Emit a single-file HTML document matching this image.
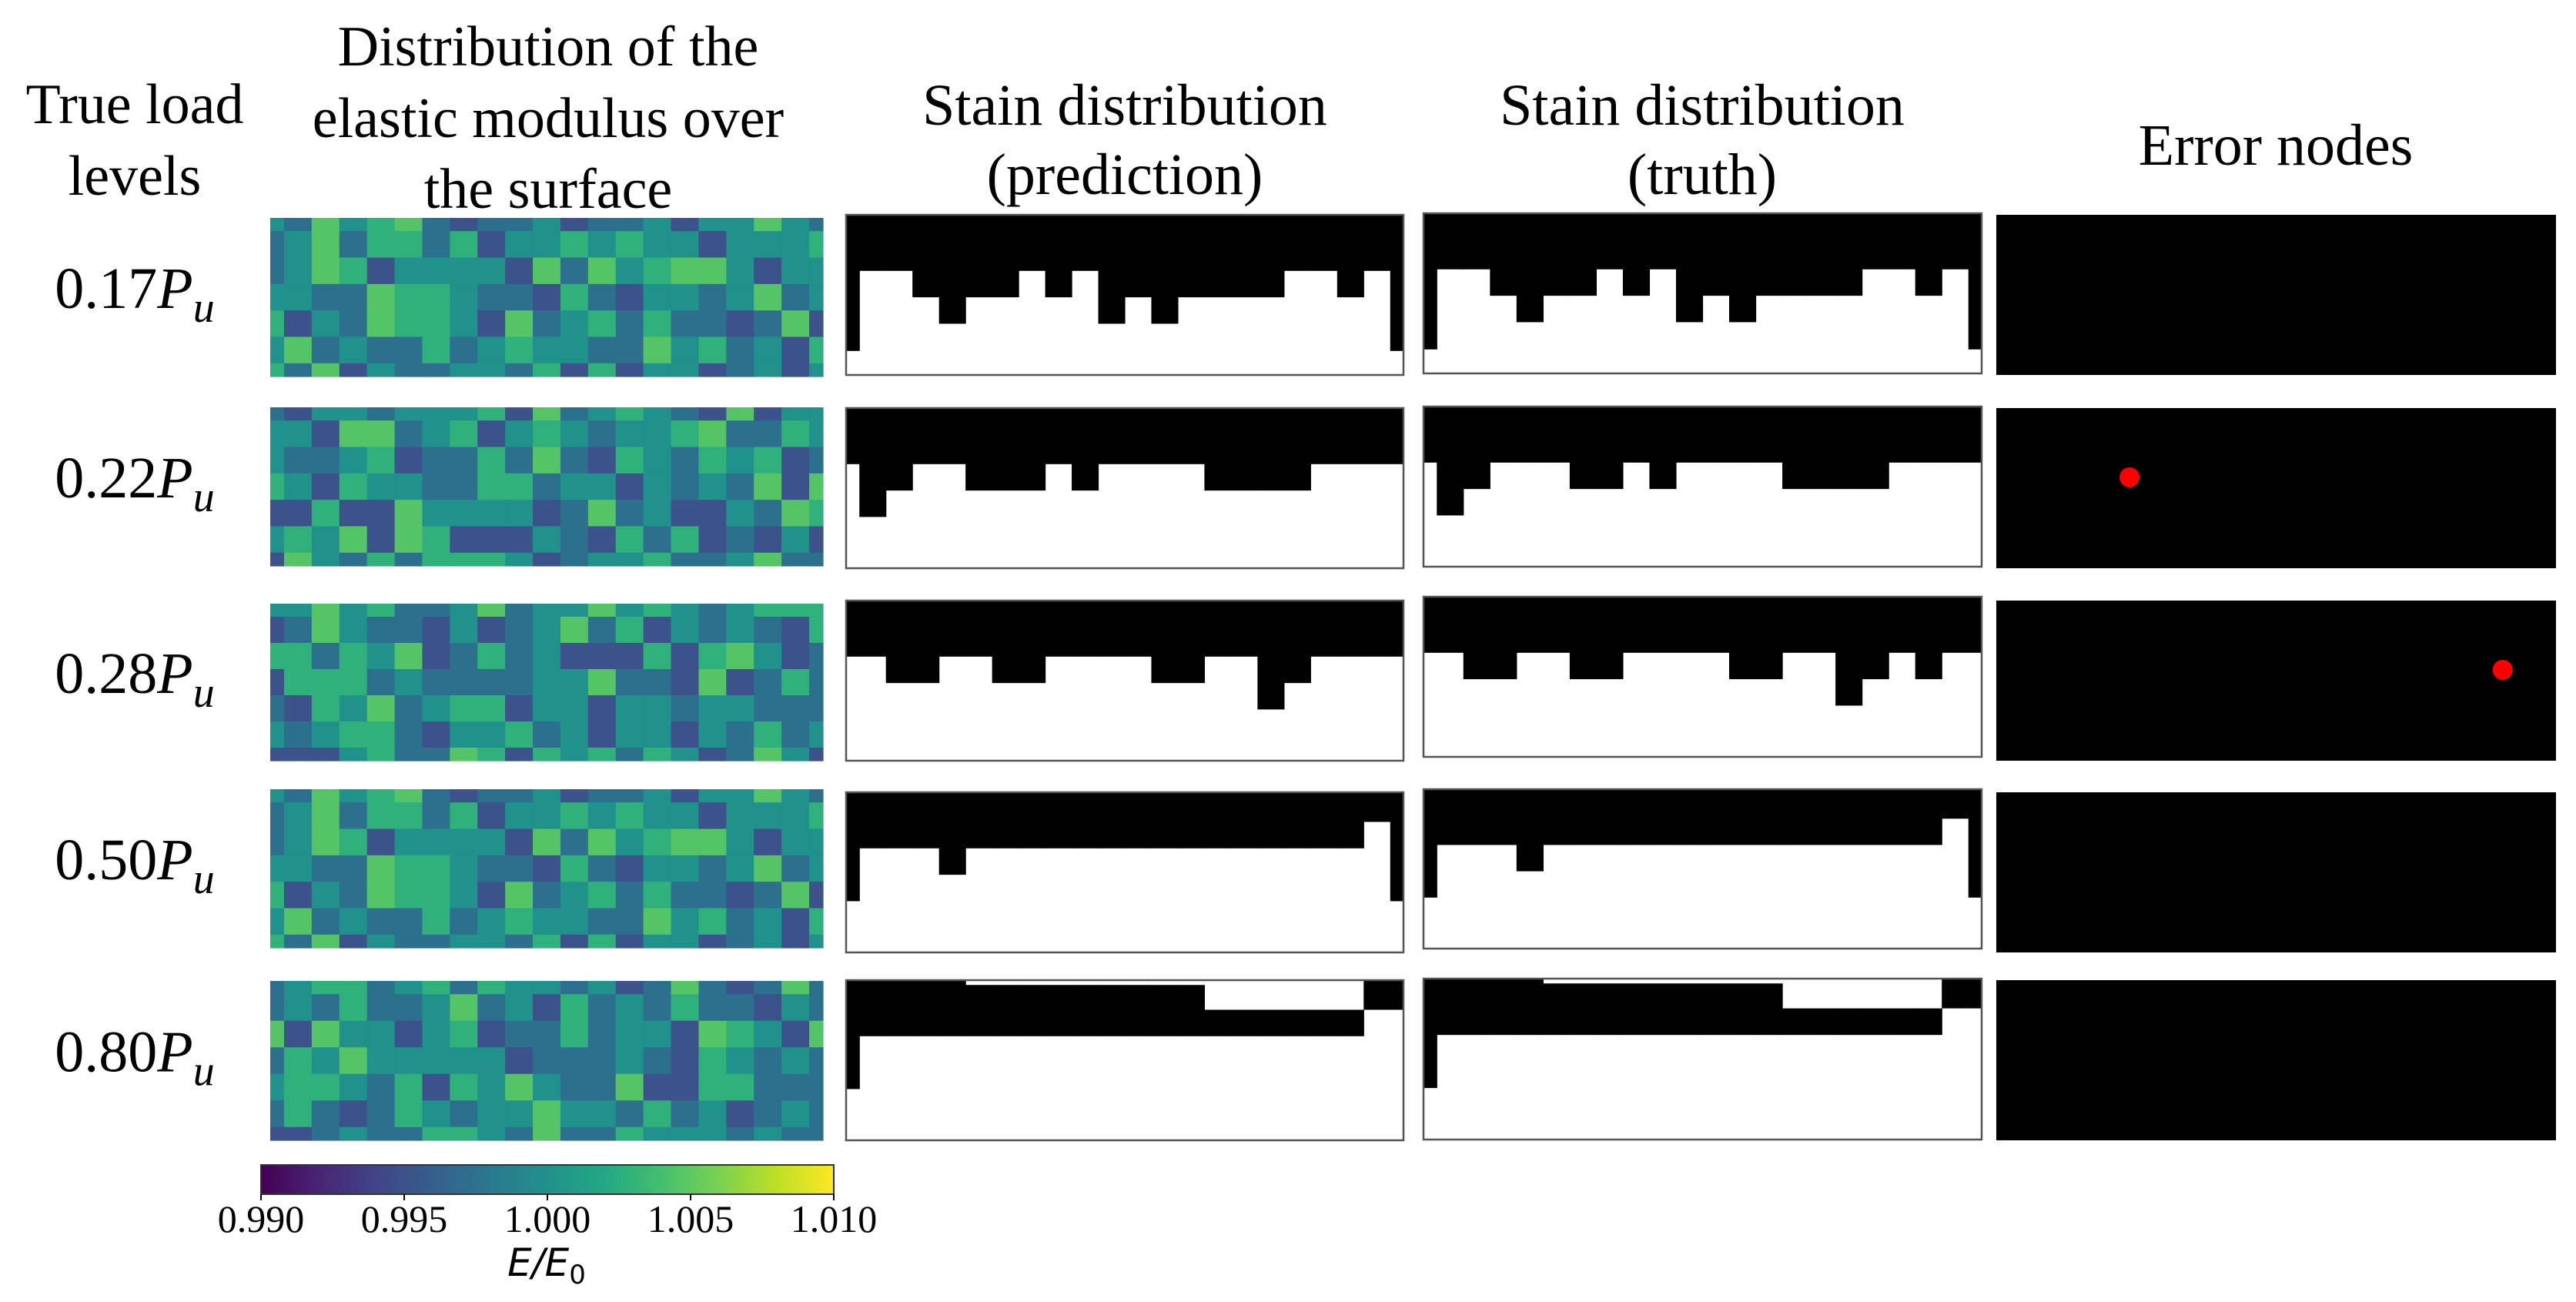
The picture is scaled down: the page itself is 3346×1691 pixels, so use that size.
<!DOCTYPE html>
<html><head><meta charset="utf-8">
<style>
html,body{margin:0;padding:0;background:#fff;}
svg{display:block;}
text{font-family:"Liberation Serif",serif;fill:#000;}
</style></head>
<body>
<svg id="fig" width="3346" height="1691" viewBox="0 0 3346 1691" xmlns="http://www.w3.org/2000/svg">
<rect width="3346" height="1691" fill="#fff"/>
<g font-size="74" text-anchor="middle">
<text x="175" y="160">True load</text>
<text x="175" y="253">levels</text>
<text x="712" y="85">Distribution of the</text>
<text x="712" y="178">elastic modulus over</text>
<text x="712" y="270">the surface</text>
<text x="1461" y="162" font-size="76">Stain distribution</text>
<text x="1461" y="252" font-size="76">(prediction)</text>
<text x="2211" y="162" font-size="76">Stain distribution</text>
<text x="2211" y="252" font-size="76">(truth)</text>
<text x="2956" y="214" font-size="76">Error nodes</text>
</g>
<g id="labels" font-size="76" text-anchor="middle"></g>
<g id="heat"></g>
<g id="strain"></g>
<g id="cbar"></g>
</svg>
<script>
// ---- data ----
const loadLabels = ["0.17", "0.22", "0.28", "0.50", "0.80"];
const levelValues = [0, 0.9950, 0.9974, 1.0000, 1.0028, 1.0046];
const heat1 = [
[3,2,5,3,4,5,2,1,2,2,3,1,2,2,3,1,3,3,5,3,2],
[2,3,5,2,4,4,2,4,1,3,3,4,3,4,3,3,1,3,3,3,4],
[2,3,5,4,1,3,3,3,3,1,5,2,5,3,4,5,5,3,1,3,3],
[3,3,2,2,5,4,4,3,2,2,1,4,2,1,3,3,2,3,5,2,3],
[4,1,3,2,5,4,4,3,1,5,2,3,4,2,4,2,2,1,2,5,1],
[3,5,2,3,2,2,4,2,3,4,3,3,2,2,5,3,4,2,3,1,4],
[4,2,5,1,3,2,2,3,3,2,4,1,4,1,3,3,1,2,3,1,3]];
const heat2 = [
[2,1,3,3,2,3,3,3,4,1,5,2,3,4,3,2,1,5,1,3,3],
[3,3,1,5,5,2,3,4,1,3,4,3,2,3,3,4,5,2,2,4,3],
[3,2,2,3,4,1,2,2,4,2,5,2,1,4,3,2,4,3,4,1,2],
[4,3,1,4,3,3,2,2,4,4,2,3,3,1,3,2,3,2,5,1,5],
[1,1,4,1,1,5,3,3,3,3,1,2,5,2,3,1,1,3,2,5,4],
[3,4,3,5,1,5,4,1,1,1,3,2,1,4,2,4,1,2,1,3,1],
[1,5,3,2,4,2,4,4,4,3,1,2,3,3,4,2,2,3,5,2,2]];
const heat3 = [
[3,3,5,3,4,2,2,3,5,2,3,3,5,3,4,3,2,3,4,4,4],
[1,2,5,3,2,2,1,3,1,2,3,5,2,4,1,3,2,3,2,1,4],
[4,4,2,4,3,5,1,2,4,2,3,1,1,1,4,1,4,5,3,1,2],
[1,4,4,4,2,3,2,2,2,2,3,3,5,2,2,1,5,1,2,4,2],
[2,1,4,3,5,2,3,4,4,1,3,3,1,3,3,2,3,3,2,2,2],
[3,2,3,4,4,2,1,3,3,4,2,3,1,3,3,1,3,2,4,2,3],
[1,1,1,3,4,2,2,5,4,1,4,3,4,2,4,3,1,2,5,3,1]];
const heat4 = heat1;
const heat5 = [
[2,3,4,4,2,3,4,2,4,3,3,2,3,1,2,5,2,1,2,5,2],
[2,3,2,4,2,2,3,5,2,3,1,4,2,3,2,4,2,2,1,3,2],
[5,1,5,3,3,1,3,4,1,2,2,4,2,3,3,1,5,4,3,1,5],
[2,4,3,5,3,3,3,3,3,1,2,2,2,3,2,1,4,3,2,3,2],
[3,4,4,3,2,4,1,4,3,5,3,2,2,5,1,1,4,4,2,2,2],
[2,4,2,1,2,4,3,2,3,3,5,3,3,2,4,2,3,1,2,3,2],
[1,1,2,3,2,2,4,4,3,2,5,2,2,4,3,3,3,2,3,2,2]];
const heats = [heat1, heat2, heat3, heat4, heat5];
const depthFractions = [0, 0.03, 0.185, 0.35, 0.515, 0.68, 0.85];
const predBottom = [
[6,3,3,4,5,4,4,3,4,3,5,4,5,4,4,4,4,3,3,4,3,6],
[3,5,4,3,3,4,4,4,3,4,3,3,3,3,4,4,4,4,3,3,3,3],
[3,3,4,4,3,3,4,4,3,3,3,3,4,4,3,3,5,4,3,3,3,3],
[5,3,3,3,4,3,3,3,3,3,3,3,3,3,3,3,3,3,3,3,2,5],
[5,3,3,3,3,3,3,3,3,3,3,3,3,3,3,3,3,3,3,3,2,2]];
const truthBottom = [
[6,3,3,4,5,4,4,3,4,3,5,4,5,4,4,4,4,3,3,4,3,6],
[3,5,4,3,3,3,4,4,3,4,3,3,3,3,4,4,4,4,3,3,3,3],
[3,3,4,4,3,3,4,4,3,3,3,3,4,4,3,3,5,4,3,4,3,3],
[5,3,3,3,4,3,3,3,3,3,3,3,3,3,3,3,3,3,3,3,2,5],
[5,3,3,3,3,3,3,3,3,3,3,3,3,3,3,3,3,3,3,3,2,2]];
const predTop = [
[0,0,0,0,0,0,0,0,0,0,0,0,0,0,0,0,0,0,0,0,0,0],
[0,0,0,0,0,0,0,0,0,0,0,0,0,0,0,0,0,0,0,0,0,0],
[0,0,0,0,0,0,0,0,0,0,0,0,0,0,0,0,0,0,0,0,0,0],
[0,0,0,0,0,0,0,0,0,0,0,0,0,0,0,0,0,0,0,0,0,0],
[0,0,0,0,0,1,1,1,1,1,1,1,1,1,2,2,2,2,2,2,0,0]];
const truthTop = predTop;
const cbarTicks = [0.990, 0.995, 1.000, 1.005, 1.010];
const cbarMin = 0.990, cbarMax = 1.010;

// ---- layout ----
const NS = "http://www.w3.org/2000/svg";
const heatX = [351, 1069];
const heatY = [[283,489],[529,735],[784,988],[1025,1231],[1274,1481]];
const predX = [1099, 1823];
const truthX = [1849, 2574];
const errX = [2593, 3320];
const predY = [[279,487],[530,738],[780,988],[1029,1237],[1273,1481]];
const truthY = [[277,485],[528,736],[775,983],[1025,1232],[1271,1480]];

const vstops = ["#440154","#482475","#414487","#355f8d","#2a788e","#21918c","#22a884","#44bf70","#7ad151","#bddf26","#fde725"];
function hex2rgb(h){return [1,3,5].map(i=>parseInt(h.substr(i,2),16));}
function viridis(t){
  t=Math.max(0,Math.min(1,t)); const p=t*10, i=Math.min(9,Math.floor(p)), f=p-i;
  const a=hex2rgb(vstops[i]), b=hex2rgb(vstops[i+1]);
  return "rgb("+a.map((v,k)=>Math.round(v+(b[k]-v)*f)).join(",")+")";
}
function colorOf(v){return viridis((v-cbarMin)/(cbarMax-cbarMin));}
function mk(tag, attrs, parent){const e=document.createElementNS(NS,tag);for(const k in attrs)e.setAttribute(k,attrs[k]);parent.appendChild(e);return e;}
function halfGrid(n, a, b){const u=(b-a)/(n-1);return i=>[a+Math.max(0,i-0.5)*u, a+Math.min(n-1,i+0.5)*u];}
function centerGrid(n, a, b){const u=(b-a)/(n-1);return i=>a+i*u;}

const labels = document.getElementById("labels");
const heatG = document.getElementById("heat");
const strainG = document.getElementById("strain");

loadLabels.forEach((lab, r) => {
  const cy = (heatY[r][0]+heatY[r][1])/2 + 14;
  const t = mk("text", {x: 175, y: cy}, labels);
  
  
  t.appendChild(document.createTextNode(lab));
  const p = mk("tspan", {"font-style":"italic"}, t); p.textContent = "P";
  const s = mk("tspan", {"font-style":"italic", "font-size":"56", dy: 18}, t); s.textContent = "u";
});

heats.forEach((grid, r) => {
  const g = mk("g", {}, heatG);
  
  
  const nr = grid.length, nc = grid[0].length;
  const xs = halfGrid(nc, heatX[0], heatX[1]);
  const ys = halfGrid(nr, heatY[r][0], heatY[r][1]);
  grid.forEach((row, i) => row.forEach((lv, j) => {
    const [x0,x1] = xs(j), [y0,y1] = ys(i);
    const c = mk("rect", {x:x0, y:y0, width:x1-x0+0.6, height:y1-y0+0.6, fill: colorOf(levelValues[lv])}, g);
    
    
  }));
});

function drawStrain(xr, yr, tops, bots, name){
  const g = mk("g", {}, strainG);
  
  
  const H = yr[1]-yr[0];
  mk("rect", {x:xr[0], y:yr[0], width:xr[1]-xr[0], height:H, fill:"#fff"}, g);
  const xs = halfGrid(bots.length, xr[0], xr[1]);
  bots.forEach((b, i) => {
    const [x0,x1] = xs(i);
    const y0 = yr[0] + depthFractions[tops[i]]*H, y1 = yr[0] + depthFractions[b]*H;
    const c = mk("rect", {x:x0, y:y0, width:x1-x0+0.6, height:y1-y0, fill:"#000"}, g);
    
    
  });
  const fr = mk("rect", {x:xr[0], y:yr[0], width:xr[1]-xr[0], height:H, fill:"none", stroke:"#555", "stroke-width":2.5}, g);
  
  
}

predBottom.forEach((b, r) => {
  drawStrain(predX, predY[r], predTop[r], b, "strain-prediction-panel");
  drawStrain(truthX, truthY[r], truthTop[r], truthBottom[r], "strain-truth-panel");
  const yr = predY[r];
  const ep = mk("rect", {x:errX[0], y:yr[0], width:errX[1]-errX[0], height:yr[1]-yr[0], fill:"#000"}, strainG);
  
  
  const cx = centerGrid(b.length, errX[0], errX[1]);
  b.forEach((v, i) => {
    const tv = truthBottom[r][i];
    if (v !== tv) {
      const l = Math.min(v, tv);
      const fy = (depthFractions[l] + depthFractions[l+1]) / 2;
      const d = mk("circle", {cx: cx(i), cy: yr[0] + fy*(yr[1]-yr[0]), r: 13, fill: "#ff0000"}, strainG);
      
      
    }
  });
});

// colorbar
const cb = document.getElementById("cbar");
const cbX = [339, 1083], cbY = [1513, 1551];
const defs = mk("defs", {}, cb);
const lg = mk("linearGradient", {id:"vir", x1:0, x2:1, y1:0, y2:0}, defs);
vstops.forEach((c,i)=>mk("stop", {offset: i/10, "stop-color": c}, lg));
const bar = mk("rect", {x:cbX[0], y:cbY[0], width:cbX[1]-cbX[0], height:cbY[1]-cbY[0], fill:"url(#vir)", stroke:"#333", "stroke-width":2}, cb);


const cbScale = v => cbX[0] + (v-cbarMin)/(cbarMax-cbarMin)*(cbX[1]-cbX[0]);
cbarTicks.forEach(v => {
  const x = cbScale(v);
  const tk = mk("line", {x1:x, x2:x, y1:cbY[1], y2:cbY[1]+8, stroke:"#000", "stroke-width":2}, cb);
  
  
  const t = mk("text", {x:x, y:1600, "font-size":50, "text-anchor":"middle"}, cb);
  
  
  t.textContent = v.toFixed(3);
});
const ct = mk("text", {x:710, y:1657, "font-size":50, "text-anchor":"middle", "font-style":"italic", style:"font-family:'DejaVu Sans','Liberation Sans',sans-serif"}, cb);


ct.appendChild(document.createTextNode("E/E"));
const sub = mk("tspan", {"font-style":"normal", "font-size":34, dy:10}, ct); sub.textContent = "0";
</script>
</body></html>
